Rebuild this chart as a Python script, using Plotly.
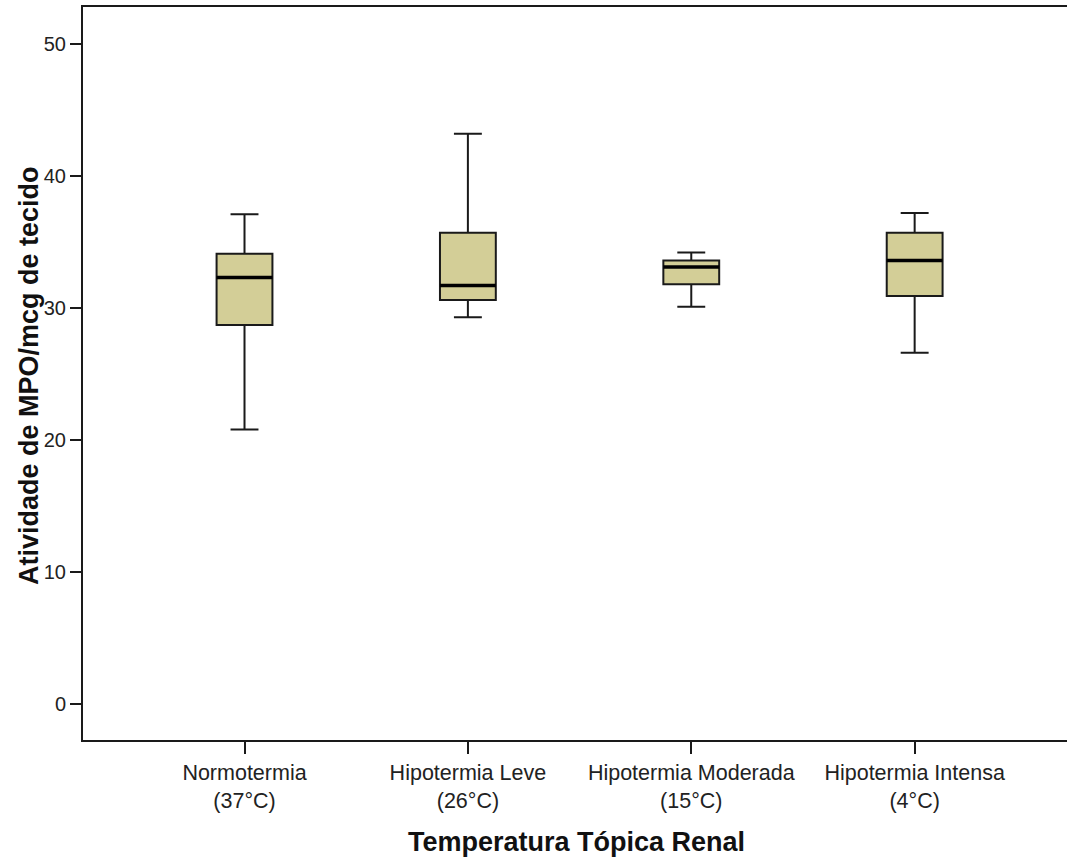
import plotly.graph_objects as go

# Group labels and box-plot summary statistics (MPO activity per mcg of tissue)
groups = ["Normotermia<br>(37°C)", "Hipotermia Leve<br>(26°C)",
          "Hipotermia Moderada<br>(15°C)", "Hipotermia Intensa<br>(4°C)"]
lower_whisker = [20.8, 29.3, 30.1, 26.6]
q1_values = [28.7, 30.6, 31.8, 30.9]
median_values = [32.3, 31.7, 33.1, 33.6]
q3_values = [34.1, 35.7, 33.6, 35.7]
upper_whisker = [37.1, 43.2, 34.2, 37.2]
y_ticks = [0, 10, 20, 30, 40, 50]

positions = list(range(len(groups)))
box_width = 0.25
fill = "#D3CE97"
ink = "#1a1a1a"

fig = go.Figure()
fig.add_trace(go.Box(
    x=positions,
    q1=q1_values,
    median=median_values,
    q3=q3_values,
    lowerfence=lower_whisker,
    upperfence=upper_whisker,
    width=box_width,
    whiskerwidth=0.5,
    fillcolor=fill,
    line=dict(color=ink, width=2),
    boxpoints=False,
    hoverinfo="skip",
    showlegend=False,
))

# Thicker median bars across each box
mx, my = [], []
for p, m in zip(positions, median_values):
    mx += [p - box_width / 2, p + box_width / 2, None]
    my += [m, m, None]
fig.add_trace(go.Scatter(x=mx, y=my, mode="lines",
                         line=dict(color="black", width=3.5),
                         hoverinfo="skip", showlegend=False))

tick_font = dict(family="Liberation Sans, Arial, sans-serif", size=21.5, color="#222")
title_font = dict(family="Liberation Sans, Arial, sans-serif", size=27, color="#111",
                  weight="bold")

fig.update_layout(
    width=1067, height=858,
    margin=dict(l=83, r=0, t=7, b=118),
    paper_bgcolor="white", plot_bgcolor="white",
    xaxis=dict(
        range=[-0.723, 3.682],
        tickmode="array", tickvals=positions, ticktext=groups,
        showgrid=False, zeroline=False,
        showline=True, linecolor=ink, linewidth=2, mirror=True,
        ticks="outside", ticklen=12, tickwidth=2, tickcolor=ink,
        tickfont=tick_font,
    ),
    yaxis=dict(
        range=[-2.73, 52.8],
        tickmode="array", tickvals=y_ticks,
        showgrid=False, zeroline=False,
        showline=True, linecolor=ink, linewidth=2,
        ticks="outside", ticklen=11, tickwidth=2, tickcolor=ink,
        tickfont=dict(family="Liberation Sans, Arial, sans-serif", size=20, color="#222"),
    ),
    annotations=[
        dict(text="Temperatura Tópica Renal", xref="paper", yref="paper",
             x=0.502, y=0, yshift=-102, xanchor="center", yanchor="middle",
             showarrow=False, font=title_font),
        dict(text="Atividade de MPO/mcg de tecido", xref="paper", yref="paper",
             x=0, xshift=-54, y=0.4966, xanchor="center", yanchor="middle",
             textangle=-90, showarrow=False, font=title_font),
    ],
)

fig.write_html("out.html")
